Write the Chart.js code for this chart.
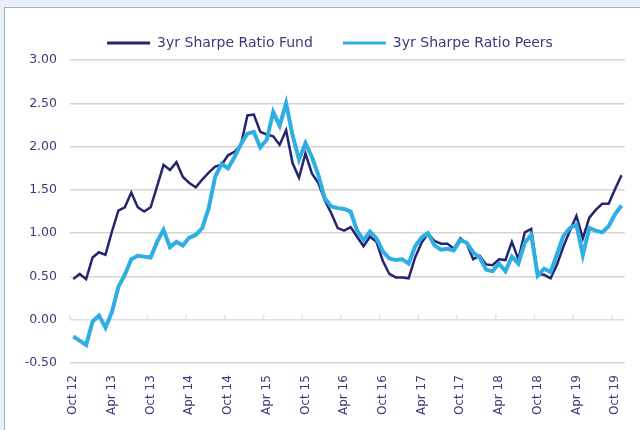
<!DOCTYPE html>
<html>
<head>
<meta charset="utf-8">
<script src="https://cdn.jsdelivr.net/npm/chart.js@4.4.1/dist/chart.umd.min.js"></script>
<style>
  html, body { margin: 0; padding: 0; }
  body { width: 640px; height: 430px; background: #e9eff8; position: relative; overflow: hidden; }
  .frame { position: absolute; left: 4px; top: 7px; right: -2px; bottom: -2px; background: #fff; border-left: 1px solid #9fb1d3; border-top: 1px solid #9fb1d3; }
  .wrap { position: absolute; left: 0; top: 0; width: 640px; height: 430px; }
</style>
</head>
<body>
<div class="frame"></div>
<div class="wrap"><canvas id="chart" width="640" height="430"></canvas></div>
<script>
// month names used to build the category labels (Oct 12 .. Nov 19)
const MONTHS = ['Jan','Feb','Mar','Apr','May','Jun','Jul','Aug','Sep','Oct','Nov','Dec'];
const START_MONTH = 9;   // Oct
const START_YEAR = 12;
const N_POINTS = 86;
const SHOWN_MONTHS = ['Oct', 'Apr'];

const yTicks = [-0.5, 0, 0.5, 1, 1.5, 2, 2.5, 3];

const fundValues = [
  0.47, 0.53, 0.47, 0.72, 0.78, 0.75, 1.02, 1.26, 1.30, 1.47, 1.30, 1.25,
  1.30, 1.54, 1.79, 1.73, 1.82, 1.65, 1.58, 1.53, 1.62, 1.70, 1.77, 1.79,
  1.90, 1.94, 2.02, 2.36, 2.37, 2.17, 2.14, 2.12, 2.02, 2.19, 1.81, 1.64,
  1.92, 1.69, 1.58, 1.38, 1.23, 1.06, 1.03, 1.07, 0.96, 0.85, 0.96, 0.90,
  0.68, 0.53, 0.49, 0.49, 0.48, 0.72, 0.89, 1.00, 0.91, 0.88, 0.88, 0.82,
  0.94, 0.88, 0.70, 0.74, 0.64, 0.63, 0.70, 0.69, 0.90, 0.70, 1.01, 1.05,
  0.53, 0.52, 0.48, 0.64, 0.85, 1.03, 1.20, 0.94, 1.18, 1.27, 1.34, 1.34,
  1.51, 1.67
];

const peerValues = [
  -0.19, -0.24, -0.29, -0.02, 0.05, -0.09, 0.09, 0.38, 0.52, 0.70, 0.74, 0.73,
  0.72, 0.90, 1.04, 0.84, 0.90, 0.86, 0.95, 0.98, 1.06, 1.29, 1.65, 1.80,
  1.75, 1.88, 2.03, 2.15, 2.17, 1.99, 2.08, 2.40, 2.24, 2.50, 2.13, 1.85,
  2.04, 1.88, 1.67, 1.40, 1.31, 1.29, 1.28, 1.25, 1.03, 0.92, 1.02, 0.94,
  0.79, 0.71, 0.69, 0.70, 0.65, 0.85, 0.95, 1.00, 0.86, 0.81, 0.82, 0.80,
  0.92, 0.89, 0.78, 0.72, 0.58, 0.56, 0.65, 0.56, 0.73, 0.65, 0.89, 0.98,
  0.51, 0.59, 0.55, 0.76, 0.97, 1.06, 1.10, 0.75, 1.06, 1.03, 1.01, 1.08,
  1.22, 1.32
];

const labels = [];
for (let i = 0; i < N_POINTS; i++) {
  const m = (START_MONTH + i) % 12;
  const y = START_YEAR + Math.floor((START_MONTH + i) / 12);
  labels.push(MONTHS[m] + ' ' + y);
}

const NAVY = '#25246e';
const SKY = '#2eaee3';
const TEXT = '#3b3a7a';
const FONT = 'DejaVu Sans';

// small upward tick marks on the zero line, every 6 categories
const zeroTicks = {
  id: 'zeroTicks',
  afterLayout(chart) {
    // legend sits a little right of the canvas centre
    chart.legend.left += 14;
    chart.legend.right += 14;
  },
  beforeDatasetsDraw(chart) {
    const x = chart.scales.x, y = chart.scales.y;
    const ctx = chart.ctx;
    const y0 = y.getPixelForValue(0);
    const half = (x.getPixelForValue(1) - x.getPixelForValue(0)) / 2;
    ctx.save();
    ctx.strokeStyle = '#d3e2f3';
    ctx.lineWidth = 1.5;
    ctx.beginPath();
    for (let i = 0; i < N_POINTS; i += 6) {
      const px = x.getPixelForValue(i) - half;
      ctx.moveTo(px, y0);
      ctx.lineTo(px, y0 - 5);
    }
    ctx.stroke();
    ctx.restore();
  }
};

new Chart(document.getElementById('chart'), {
  type: 'line',
  data: {
    labels,
    datasets: [
      {
        label: '3yr Sharpe Ratio Fund',
        data: fundValues,
        borderColor: NAVY,
        backgroundColor: NAVY,
        borderWidth: 2.5,
        pointRadius: 0,
        tension: 0,
        order: 1
      },
      {
        label: '3yr Sharpe Ratio Peers',
        data: peerValues,
        borderColor: SKY,
        backgroundColor: SKY,
        borderWidth: 4,
        pointRadius: 0,
        tension: 0,
        order: 0
      }
    ]
  },
  options: {
    responsive: false,
    animation: false,
    layout: { padding: { left: 0, right: 8, top: 6, bottom: 11 } },
    plugins: {
      tooltip: { enabled: false },
      legend: {
        labels: {
          boxWidth: 43,
          boxHeight: 3,
          padding: 30,
          color: TEXT,
          font: { family: FONT, size: 14 },
          sort: (a, b) => a.datasetIndex - b.datasetIndex,
          generateLabels: (chart) =>
            Chart.defaults.plugins.legend.labels.generateLabels(chart)
              .map(l => Object.assign(l, { lineWidth: 0 }))
        }
      }
    },
    scales: {
      x: {
        offset: true,
        grid: { display: false },
        border: { display: false },
        ticks: {
          autoSkip: false,
          minRotation: 90,
          maxRotation: 90,
          padding: 4,
          color: TEXT,
          font: { family: FONT, size: 12 },
          callback: function (v, i) {
            const l = labels[i];
            return SHOWN_MONTHS.includes(l.slice(0, 3)) ? l : '';
          }
        }
      },
      y: {
        min: -0.5,
        max: 3,
        afterBuildTicks: (s) => { s.ticks = yTicks.map(v => ({ value: v })); },
        afterFit: (s) => { s.width = 70; },
        grid: {
          drawTicks: false,
          lineWidth: 1.5,
          color: (c) => c.tick && c.tick.value === 0 ? '#d3e2f3' : '#d4d4d4'
        },
        border: { display: false },
        ticks: {
          padding: 13,
          color: TEXT,
          font: { family: FONT, size: 12.5 },
          callback: (v) => Number(v).toFixed(2)
        }
      }
    }
  },
  plugins: [zeroTicks]
});
</script>
</body>
</html>
